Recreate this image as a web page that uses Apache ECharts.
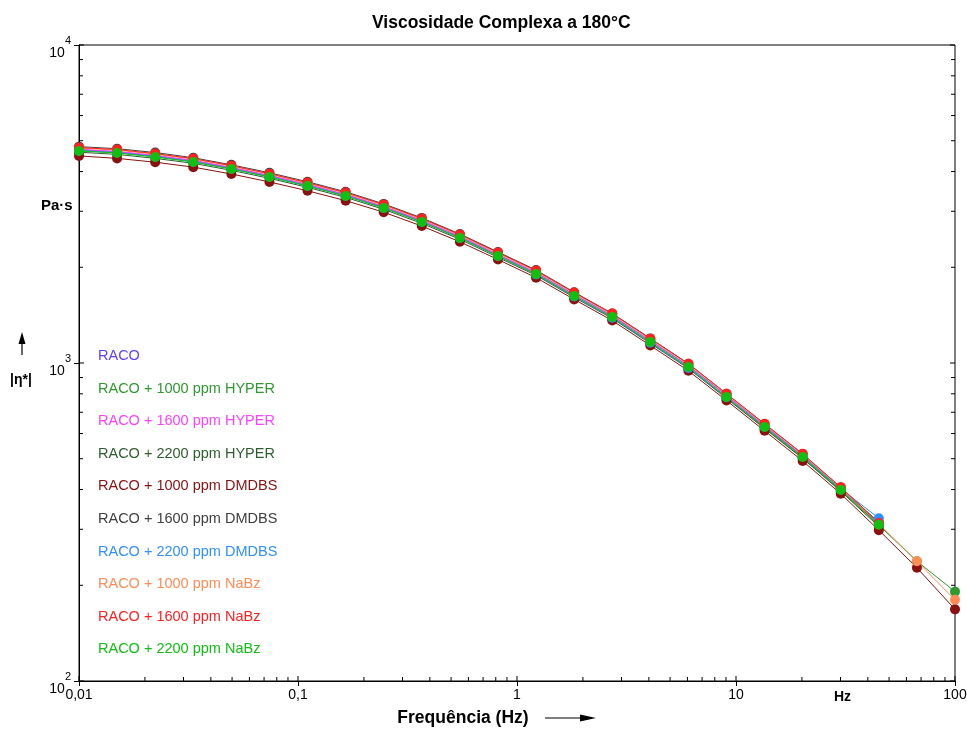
<!DOCTYPE html>
<html><head><meta charset="utf-8">
<script src="https://cdn.jsdelivr.net/npm/echarts@6/dist/echarts.min.js"></script>
<style>html,body{margin:0;padding:0;background:#fff;overflow:hidden}#c{width:967px;height:729px}</style>
</head><body><div id="c"></div>
<script>
// Frequency (Hz)
const frequencies = [0.01, 0.01492, 0.02228, 0.03325, 0.04963, 0.07406, 0.1105, 0.165, 0.2462, 0.3675, 0.5485, 0.8187, 1.2218, 1.8236, 2.7217, 4.0622, 6.0628, 9.0486, 13.505, 20.156, 30.083, 44.898, 67.01, 100];

const seriesNames = ['RACO', 'RACO + 1000 ppm HYPER', 'RACO + 1600 ppm HYPER', 'RACO + 2200 ppm HYPER', 'RACO + 1000 ppm DMDBS', 'RACO + 1600 ppm DMDBS', 'RACO + 2200 ppm DMDBS', 'RACO + 1000 ppm NaBz', 'RACO + 1600 ppm NaBz', 'RACO + 2200 ppm NaBz'];

// |η*| (Pa·s)
const raco        = [4690, 4620, 4490, 4330, 4115, 3885, 3640, 3385, 3100, 2805, 2500, 2190, 1925, 1640, 1408, 1175, 980, 790, 635, 510, 402, 312];
const hyper1000   = [4660, 4590, 4460, 4300, 4085, 3855, 3610, 3358, 3078, 2782, 2478, 2172, 1905, 1622, 1392, 1160, 966, 778, 625, 503, 397, 309, 238, 191];
const hyper1600   = [4700, 4625, 4495, 4335, 4120, 3890, 3645, 3390, 3105, 2808, 2500, 2192, 1925, 1642, 1410, 1176, 981, 790, 636, 511, 403, 313];
const hyper2200   = [4600, 4530, 4400, 4245, 4035, 3808, 3568, 3318, 3042, 2748, 2450, 2148, 1886, 1608, 1381, 1152, 961, 774, 622, 501, 395, 306];
const dmdbs1000   = [4480, 4400, 4280, 4130, 3930, 3710, 3480, 3240, 2980, 2695, 2405, 2115, 1855, 1585, 1360, 1135, 945, 762, 612, 492, 388, 298, 227, 168];
const dmdbs1600   = [4790, 4720, 4590, 4420, 4200, 3965, 3715, 3455, 3165, 2860, 2545, 2235, 1960, 1670, 1432, 1195, 995, 800, 643, 517, 406, 315];
const dmdbs2200   = [4650, 4590, 4455, 4295, 4080, 3850, 3605, 3355, 3075, 2780, 2475, 2170, 1900, 1618, 1388, 1158, 965, 780, 630, 508, 402, 325];
const nabz1000    = [4740, 4670, 4535, 4375, 4158, 3923, 3675, 3418, 3133, 2832, 2522, 2213, 1943, 1658, 1423, 1188, 990, 798, 641, 515, 405, 312, 238, 180];
const nabz1600    = [4760, 4690, 4555, 4393, 4175, 3940, 3692, 3435, 3150, 2846, 2535, 2225, 1953, 1665, 1430, 1193, 995, 801, 644, 518, 407, 314];
const nabz2200    = [4642, 4575, 4444, 4286, 4074, 3845, 3602, 3351, 3072, 2776, 2473, 2170, 1905, 1625, 1395, 1164, 971, 782, 629, 506, 399, 310];

const seriesValues = [raco, hyper1000, hyper1600, hyper2200, dmdbs1000, dmdbs1600, dmdbs2200, nabz1000, nabz1600, nabz2200];
const seriesColors = ['#6040ff', '#2e9a2e', '#ff40ff', '#2e5e2e', '#8b1010', '#404040', '#3090ff', '#ff8c55', '#ff2020', '#10c010'];

// axis ticks
const xMajorTicks = [0.01, 0.1, 1, 10, 100];
const xMinorTicks = [0.02,0.03,0.04,0.05,0.06,0.07,0.08,0.09, 0.2,0.3,0.4,0.5,0.6,0.7,0.8,0.9, 2,3,4,5,6,7,8,9, 20,30,40,50,60,70,80,90];
const yMajorTicks = [100, 1000, 10000];
const yMinorTicks = [200,300,400,500,600,700,800,900, 2000,3000,4000,5000,6000,7000,8000,9000];

const FONT = '"Liberation Sans", Arial, sans-serif';

const tickData = [];
xMajorTicks.forEach(v => tickData.push([v, 100, 0, 1]));
xMinorTicks.forEach(v => tickData.push([v, 100, 0, 0]));
yMajorTicks.forEach(v => { tickData.push([0.01, v, 1, 1]); tickData.push([100, v, 2, 1]); });
yMinorTicks.forEach(v => { tickData.push([0.01, v, 1, 0]); tickData.push([100, v, 2, 0]); });

const lineSeries = seriesNames.map((name, i) => ({
  type: 'line',
  name: name,
  data: seriesValues[i].map((v, k) => [frequencies[k], v]),
  symbol: 'circle',
  symbolSize: 10,
  showAllSymbol: true,
  lineStyle: { width: 1, color: seriesColors[i] },
  itemStyle: { color: seriesColors[i] },
  emphasis: { disabled: true },
  z: 3
}));

const tickSeries = {
  type: 'custom',
  name: 'ticks',
  silent: true,
  clip: false,
  z: 5,
  data: tickData,
  renderItem: function (params, api) {
    const side = api.value(2), major = api.value(3);
    const p = api.coord([api.value(0), api.value(1)]);
    const L = major ? 5 : 4;
    let x2 = p[0], y2 = p[1];
    if (side === 0) y2 = p[1] - L; else if (side === 1) x2 = p[0] + L; else x2 = p[0] - L;
    return { type: 'line', shape: { x1: p[0], y1: p[1], x2: x2, y2: y2 }, style: { stroke: '#000', lineWidth: 1 } };
  }
};

const chart = echarts.init(document.getElementById('c'), null, { renderer: 'canvas', width: 967, height: 729 });
chart.setOption({
  animation: false,
  backgroundColor: '#fff',
  textStyle: { fontFamily: FONT },
  title: {
    text: 'Viscosidade Complexa a 180°C',
    left: 367, top: 9,
    textStyle: { fontFamily: FONT, fontSize: 17.5, fontWeight: 'bold', color: '#000' }
  },
  grid: { left: 79, right: 12, top: 45, bottom: 48, containLabel: false, outerBoundsMode: 'none',
    show: true, borderColor: '#000', borderWidth: 1, backgroundColor: 'transparent' },
  legend: {
    orient: 'vertical',
    left: 88, top: 343,
    icon: 'none',
    itemWidth: 0, itemHeight: 0,
    itemGap: 16.6,
    selectedMode: false,
    textStyle: { fontFamily: FONT, fontSize: 14.5, lineHeight: 16 },
    data: seriesNames.map((n, i) => ({ name: n, textStyle: { color: seriesColors[i] } }))
  },
  xAxis: {
    type: 'log', logBase: 10, min: 0.01, max: 100,
    name: 'Frequência (Hz)',
    nameLocation: 'middle', nameGap: 28,
    nameTextStyle: { fontFamily: FONT, fontSize: 17.5, fontWeight: 'bold', color: '#000', padding: [0, 108, 0, 0] },
    axisLine: { lineStyle: { color: '#000', width: 1 } },
    axisTick: { show: true, length: 5, lineStyle: { color: '#000' } },
    axisLabel: { color: '#000', fontSize: 14, fontFamily: FONT, margin: 7,
      formatter: v => String(Number(v.toPrecision(6))).replace('.', ',') },
    splitLine: { show: false }
  },
  yAxis: {
    type: 'log', logBase: 10, min: 100, max: 10000,
    axisLine: { lineStyle: { color: '#000', width: 1 } },
    axisTick: { show: true, length: 5, lineStyle: { color: '#000' } },
    axisLabel: {
      color: '#000', margin: 8, fontFamily: FONT, padding: [6, 0, 0, 0],
      formatter: v => '{b|10}{s|' + Math.round(Math.log10(v)) + '}',
      rich: {
        b: { fontSize: 14, fontFamily: FONT, color: '#000', lineHeight: 25, verticalAlign: 'bottom' },
        s: { fontSize: 11, fontFamily: FONT, color: '#000', lineHeight: 25, verticalAlign: 'top' }
      }
    },
    splitLine: { show: false }
  },
  graphic: [
    { type: 'text', left: 41, top: 198, style: { text: 'Pa·s', font: 'bold 15px ' + FONT, fill: '#000' } },
    { type: 'text', left: 10, top: 373, style: { text: '|η*|', font: 'bold 14px ' + FONT, fill: '#000' } },
    { type: 'text', left: 834, top: 690, style: { text: 'Hz', font: 'bold 14px ' + FONT, fill: '#000' } },
    { type: 'line', shape: { x1: 22, y1: 355, x2: 22, y2: 340 }, style: { stroke: '#000', lineWidth: 1.2 } },
    { type: 'polygon', shape: { points: [[22, 332], [18.5, 344], [25.5, 344]] }, style: { fill: '#000' } },
    { type: 'line', shape: { x1: 545, y1: 718, x2: 582, y2: 718 }, style: { stroke: '#000', lineWidth: 1.2 } },
    { type: 'polygon', shape: { points: [[596, 718], [580, 714.5], [580, 721.5]] }, style: { fill: '#000' } }
  ],
  series: lineSeries.concat([tickSeries])
});
</script>
</body></html>
